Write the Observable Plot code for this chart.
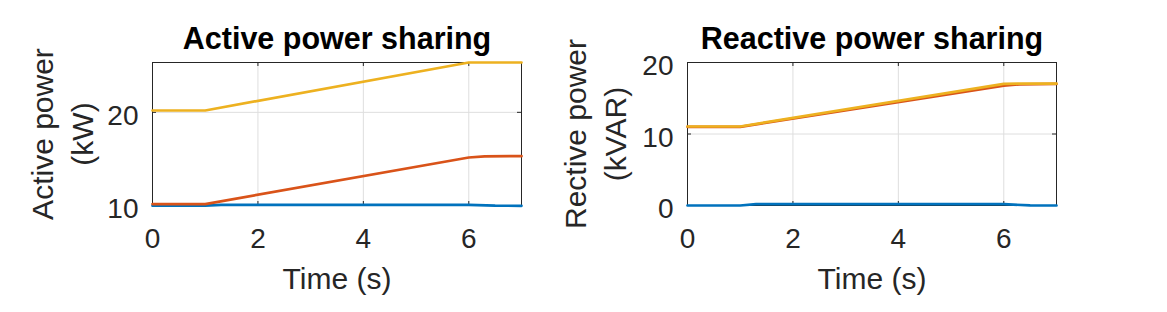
<!DOCTYPE html>
<html><head><meta charset="utf-8">
<script src="https://cdn.jsdelivr.net/npm/d3@7"></script>
<script src="https://cdn.jsdelivr.net/npm/@observablehq/plot@0.6"></script>
<style>
body{margin:0;background:#fff;}
#wrap{position:relative;width:1167px;height:312px;overflow:hidden;}
#wrap svg{position:absolute;top:0;}
</style></head><body><div id="wrap"></div>
<script>
// ---- data ----
const timeMain = [0, 1, 6, 6.3, 7];
const timeBlue = [0, 1, 1.3, 6, 6.5, 7];
const activeYellow = [20.2, 20.2, 25.35, 25.35, 25.35];
const activeRed = [10.15, 10.15, 15.15, 15.28, 15.3];
const activeBlue = [9.98, 9.98, 10.06, 10.06, 9.98, 9.97];
const reactiveYellow = [11.05, 11.05, 17.0, 17.05, 17.05];
const reactiveRed = [11.0, 11.0, 16.75, 16.95, 17.0];
const reactiveBlue = [0.0, 0.0, 0.18, 0.18, 0.02, 0.0];
const xTicks = [0, 2, 4, 6];
const activeTicks = [10, 20];
const reactiveTicks = [0, 10, 20];
const seriesColors = ["#0072BD", "#D95319", "#EDB120"];
const titles = ["Active power sharing", "Reactive power sharing"];
const yLabels = ["Active power\n(kW)", "Rective power\n(kVAR)"];
const xLabel = "Time (s)";

const rows = (t, v) => t.map((d, i) => ({t: d, v: v[i]}));
const FONT = "'Liberation Sans', Arial, Helvetica, sans-serif";
const INK = "#262626";

function panel({left, width, mL, mR, yDomain, yTicks, series, title, yLabel, ylabDx}) {
  const mT = 62, mB = 107, H = 312;
  const innerH = H - mT - mB, innerW = width - mL - mR;
  const marks = [
    Plot.gridX(xTicks, {stroke: "#dedede", strokeOpacity: 1, strokeWidth: 1}),
    Plot.gridY(yTicks, {stroke: "#dedede", strokeOpacity: 1, strokeWidth: 1}),
    Plot.frame({stroke: INK, strokeWidth: 1}),
    Plot.tickX(xTicks, {x: d => d, insetTop: innerH - 4, stroke: INK}),
    Plot.tickX(xTicks, {x: d => d, insetBottom: innerH - 4, stroke: INK}),
    Plot.tickY(yTicks, {y: d => d, insetRight: innerW - 4, stroke: INK}),
    Plot.tickY(yTicks, {y: d => d, insetLeft: innerW - 4, stroke: INK}),
    ...series.map((s, i) => Plot.line(rows(s.t, s.v), {x: "t", y: "v", stroke: seriesColors[i], strokeWidth: 2.7})),
    Plot.axisX({ticks: xTicks, tickFormat: d3.format("d"), tickSize: 0, tickPadding: 23, fontSize: 28, fill: INK, label: null}),
    Plot.axisY({ticks: yTicks, tickFormat: d3.format("d"), tickSize: 0, tickPadding: 14, dy: 4, fontSize: 28, fill: INK, label: null}),
    Plot.text([title], {frameAnchor: "top", lineAnchor: "bottom", dy: -14, fontSize: 30.5, fontWeight: "bold", fill: "#000"}),
    Plot.text([xLabel], {frameAnchor: "bottom", lineAnchor: "bottom", dy: 83, fontSize: 30, fill: INK}),
    Plot.text([yLabel], {frameAnchor: "left", textAnchor: "middle", lineAnchor: "bottom", rotate: -90, dx: ylabDx, fontSize: 30, lineHeight: 1.33, fill: INK})
  ];
  const svg = Plot.plot({
    width, height: H, marginLeft: mL, marginRight: mR, marginTop: mT, marginBottom: mB,
    x: {domain: [0, 7], label: null},
    y: {domain: yDomain, label: null},
    style: {fontFamily: FONT, fontSize: "28px", color: INK, background: "transparent", overflow: "visible"},
    marks
  });
  svg.style.left = left + "px";
  document.getElementById("wrap").appendChild(svg);
}

panel({
  left: 0, width: 583, mL: 152, mR: 62,
  yDomain: [10, d3.max(activeYellow)], yTicks: activeTicks,
  series: [{t: timeBlue, v: activeBlue}, {t: timeMain, v: activeRed}, {t: timeMain, v: activeYellow}],
  title: titles[0], yLabel: yLabels[0], ylabDx: -60
});
panel({
  left: 583, width: 584, mL: 104, mR: 111,
  yDomain: [0, 20], yTicks: reactiveTicks,
  series: [{t: timeBlue, v: reactiveBlue}, {t: timeMain, v: reactiveRed}, {t: timeMain, v: reactiveYellow}],
  title: titles[1], yLabel: yLabels[1], ylabDx: -62
});
</script></body></html>
